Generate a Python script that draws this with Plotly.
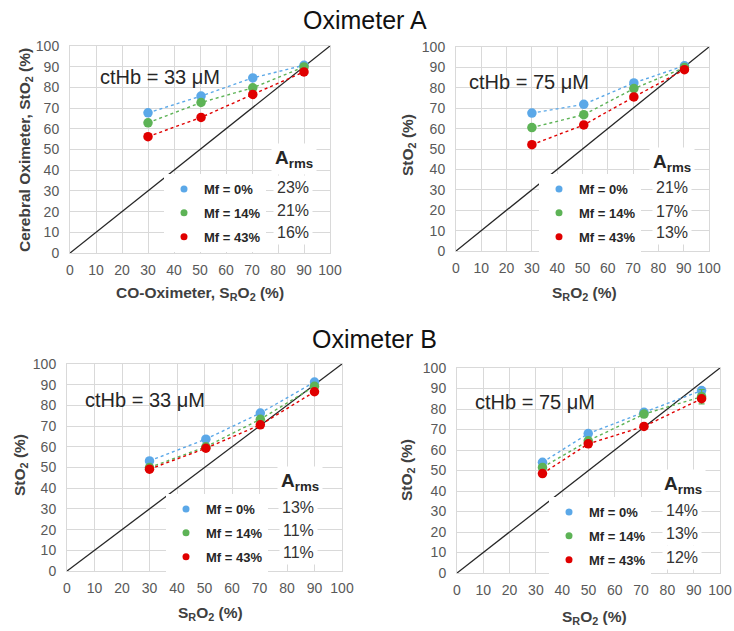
import plotly.graph_objects as go

W, H = 734, 631
FONT = "Liberation Sans, Arial, sans-serif"

# ---------------- data ----------------
mf_labels = ["Mf = 0%", "Mf = 14%", "Mf = 43%"]
series_colors = ["#5BA8E8", "#5DB356", "#E00000"]
axis_ticks = [0, 10, 20, 30, 40, 50, 60, 70, 80, 90, 100]
identity = [0, 100]

# Oximeter A, ctHb = 33 uM
sro2_A33 = [30, 50.4, 70.3, 90]
sto2_A33_mf0 = [67.7, 75.8, 84.6, 90.7]
sto2_A33_mf14 = [62.9, 72.7, 79.8, 89.9]
sto2_A33_mf43 = [56.2, 65.5, 76.6, 87.5]
arms_A33 = ["23%", "21%", "16%"]

# Oximeter A, ctHb = 75 uM
sro2_A75 = [30, 50.5, 70.3, 90.3]
sto2_A75_mf0 = [67.6, 71.9, 82.4, 90.8]
sto2_A75_mf14 = [60.5, 66.8, 79.6, 89.9]
sto2_A75_mf43 = [52.1, 61.8, 75.5, 88.9]
arms_A75 = ["21%", "17%", "13%"]

# Oximeter B, ctHb = 33 uM
sro2_B33 = [30, 50.5, 70.3, 90]
sto2_B33_mf0 = [53.2, 63.7, 76.3, 91.3]
sto2_B33_mf14 = [50.0, 60.0, 73.3, 89.2]
sto2_B33_mf43 = [49.2, 59.3, 70.6, 86.6]
arms_B33 = ["13%", "11%", "11%"]

# Oximeter B, ctHb = 75 uM
sro2_B75 = [32.5, 49.9, 71.1, 93]
sto2_B75_mf0 = [54.0, 68.0, 78.4, 89.0]
sto2_B75_mf14 = [51.5, 64.5, 77.5, 86.0]
sto2_B75_mf43 = [48.5, 63.0, 71.5, 85.0]
err_B75_mf14 = [0, 0, 0, 3.5]
arms_B75 = ["14%", "13%", "12%"]

cthb_labels = ["ctHb = 33 μM", "ctHb = 75 μM", "ctHb = 33 μM", "ctHb = 75 μM"]
group_titles = ["Oximeter A", "Oximeter B"]
ytitles = ["Cerebral Oximeter, StO<sub>2</sub> (%)", "StO<sub>2</sub> (%)",
           "StO<sub>2</sub> (%)", "StO<sub>2</sub> (%)"]
xtitles = ["CO-Oximeter, S<sub>R</sub>O<sub>2</sub> (%)", "S<sub>R</sub>O<sub>2</sub> (%)",
           "S<sub>R</sub>O<sub>2</sub> (%)", "S<sub>R</sub>O<sub>2</sub> (%)"]

panel_data = [
    (sro2_A33, [sto2_A33_mf0, sto2_A33_mf14, sto2_A33_mf43], arms_A33, None),
    (sro2_A75, [sto2_A75_mf0, sto2_A75_mf14, sto2_A75_mf43], arms_A75, None),
    (sro2_B33, [sto2_B33_mf0, sto2_B33_mf14, sto2_B33_mf43], arms_B33, None),
    (sro2_B75, [sto2_B75_mf0, sto2_B75_mf14, sto2_B75_mf43], arms_B75, err_B75_mf14),
]

# ---------------- layout geometry (pixels) ----------------
def fx(x):
    return x / W

def fy(y):
    return 1 - y / H

# plot areas: left, right, top, bottom
areas = [(70, 330, 46, 253), (456, 709, 47, 251), (67, 342, 364, 571), (457, 720, 368, 573)]
cthb_pos = [(98, 77), (467, 82), (83, 400), (473, 402)]
arms_pos = [(294, 159), (672, 163), (300, 482), (683, 485)]
pct_x = [293, 672, 298, 682]
pct_y = [(187, 210, 233), (187, 211, 232), (507, 530, 552), (510, 533, 557)]
ytitle_pos = [(25, 150), (408, 145), (20, 465), (407, 470)]
xtitle_pos = [(200, 293), (584, 293), (210, 613), (594, 617)]
legend_marker_x = [192, 567, 194, 577]
legend_first_y = [187, 187, 507, 510]

fig = go.Figure()
annotations = []
layout = {}

for i, (xs, ys_list, arms, err) in enumerate(panel_data):
    n = "" if i == 0 else str(i + 1)
    xa, ya = "x" + n, "y" + n
    leg = "legend" + n
    L, R, T, B = areas[i]
    axis_common = dict(range=[0, 100], tickvals=axis_ticks, showgrid=True,
                       gridcolor="#D9D9D9", gridwidth=1, zeroline=False,
                       showline=True, linecolor="#D9D9D9", linewidth=1, mirror=True,
                       ticks="", tickfont=dict(family=FONT, size=14, color="#595959"),
                       automargin=False, fixedrange=True)
    layout["xaxis" + n] = dict(axis_common, domain=[fx(L), fx(R)], anchor=ya,
                               ticklabelstandoff=4)
    layout["yaxis" + n] = dict(axis_common, domain=[fy(B), fy(T)], anchor=xa,
                               ticklabelstandoff=7)

    # identity line
    fig.add_trace(go.Scatter(x=identity, y=identity, mode="lines",
                             line=dict(color="#262626", width=1.3),
                             xaxis=xa, yaxis=ya, showlegend=False, hoverinfo="skip"))
    for k, ys in enumerate(ys_list):
        fig.add_trace(go.Scatter(x=xs, y=ys, mode="lines",
                                 line=dict(color=series_colors[k], width=1.4, dash="dot"),
                                 xaxis=xa, yaxis=ya, showlegend=False, hoverinfo="skip"))
    for k, ys in enumerate(ys_list):
        err_y = None
        if err is not None and k == 1:
            err_y = dict(type="data", array=err, visible=True, color=series_colors[k],
                         thickness=1.2, width=3)
        fig.add_trace(go.Scatter(x=xs, y=ys, mode="markers",
                                 marker=dict(color=series_colors[k], size=9.5),
                                 error_y=err_y,
                                 xaxis=xa, yaxis=ya, showlegend=False, name=mf_labels[k]))
    # legend-only entries
    for k in range(3):
        fig.add_trace(go.Scatter(x=[None], y=[None], mode="markers",
                                 marker=dict(color=series_colors[k], size=7),
                                 name="<b>" + mf_labels[k] + "</b>",
                                 legend=leg, legendgroup="g%d_%d" % (i, k),
                                 xaxis=xa, yaxis=ya, showlegend=True))
    layout[leg] = dict(x=fx(legend_marker_x[i] - 28), y=fy(legend_first_y[i] - 13),
                       xanchor="left", yanchor="top", xref="paper", yref="paper",
                       bgcolor="white", borderwidth=0, tracegroupgap=4,
                       font=dict(family=FONT, size=13, color="#262626"))

    cx, cy = cthb_pos[i]
    annotations.append(dict(text=cthb_labels[i], x=fx(cx), y=fy(cy), xref="paper", yref="paper",
                            xanchor="left", yanchor="middle", showarrow=False,
                            font=dict(family=FONT, size=20, color="#262626")))
    ax_, ay_ = arms_pos[i]
    annotations.append(dict(text="<b>A<sub>rms</sub></b>", x=fx(ax_), y=fy(ay_),
                            xref="paper", yref="paper", xanchor="center", yanchor="middle",
                            showarrow=False, bgcolor="white", borderpad=3,
                            font=dict(family=FONT, size=19, color="#262626")))
    for k in range(3):
        annotations.append(dict(text=arms[k], x=fx(pct_x[i]), y=fy(pct_y[i][k]),
                                xref="paper", yref="paper", xanchor="center", yanchor="middle",
                                showarrow=False, bgcolor="white", borderpad=3,
                                font=dict(family=FONT, size=16, color="#333333")))
    tx, ty = ytitle_pos[i]
    annotations.append(dict(text="<b>" + ytitles[i] + "</b>", x=fx(tx), y=fy(ty),
                            xref="paper", yref="paper", xanchor="center", yanchor="middle",
                            textangle=-90, showarrow=False,
                            font=dict(family=FONT, size=15.5, color="#404040")))
    tx, ty = xtitle_pos[i]
    annotations.append(dict(text="<b>" + xtitles[i] + "</b>", x=fx(tx), y=fy(ty),
                            xref="paper", yref="paper", xanchor="center", yanchor="middle",
                            showarrow=False,
                            font=dict(family=FONT, size=15.5, color="#404040")))

for t, (cx, cy) in zip(group_titles, [(365, 20), (374, 339)]):
    annotations.append(dict(text=t, x=fx(cx), y=fy(cy), xref="paper", yref="paper",
                            xanchor="center", yanchor="middle", showarrow=False,
                            font=dict(family=FONT, size=25, color="#111111")))

fig.update_layout(width=W, height=H, margin=dict(l=0, r=0, t=0, b=0),
                  template="none", paper_bgcolor="white", plot_bgcolor="white",
                  showlegend=True, annotations=annotations, **layout)

fig.write_html("out.html", config={"displayModeBar": False},
               post_script="document.body.style.margin='0px';")
